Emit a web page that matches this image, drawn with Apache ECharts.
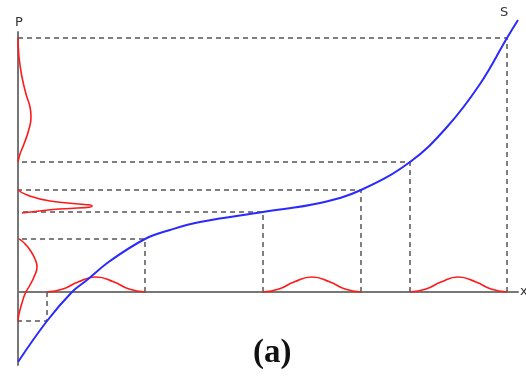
<!DOCTYPE html>
<html><head><meta charset="utf-8">
<script src="https://cdn.jsdelivr.net/npm/echarts@6/dist/echarts.min.js"></script>
<style>html,body{margin:0;padding:0;background:#fff;overflow:hidden}#c{width:526px;height:377px}</style>
</head><body><div id="c"></div>
<script>
// Blue transfer curve S(x)
const curveS = [[0,-70],[29,-29],[54,0],[69,12],[92,31],[127,53],[152,62],[182,70],[245,80],[302,89],[343,102],[392,130],[429,165],[462,208],[489,254],[500,272]];
// points on the curve with guide (dashed) lines
const guides = [[29,-29],[127,53],[245,80],[343,102],[392,130],[489,254]];
// input densities along x axis
const bumpX1 = [[29,0],[45,3],[60,10],[78,15],[96,10],[111,3],[127,0]];
const bumpX2 = [[245,0],[261,3],[276,10],[294,15],[312,10],[327,3],[343,0]];
const bumpX3 = [[392,0],[408,3],[423,10],[440,15],[458,10],[473,3],[489,0]];
// output densities along P axis
const densP1 = [[0,254],[1,235],[4,215],[8,198],[12,185],[13,175],[11,163],[6,148],[2,138],[0,130]];
const densP2 = [[0,102],[9,97],[32,91],[74,86],[30,82],[4,79]];
const densP3 = [[1,53],[4,51],[8,47],[12,42],[17,33],[19,25],[16,15],[12,7],[7,-2],[4,-11],[1,-22],[0,-29]];

const dashStyle = {color:'#555', width:1.5, type:[5,4]};
const series = [];
guides.forEach(g => {
  series.push({type:'line', data:[[g[0],0],[g[0],g[1]],[0,g[1]]], symbol:'none', lineStyle:dashStyle, silent:true, z:1});
});
[bumpX1,bumpX2,bumpX3,densP1,densP2,densP3].forEach(d => {
  series.push({type:'line', data:d, smooth:0.5, symbol:'none', lineStyle:{color:'#ff1a1a', width:1.6}, z:3, clip:false});
});
series.push({type:'line', data:curveS, smooth:0.4, symbol:'none', lineStyle:{color:'#2a2aff', width:2}, z:4, clip:false});

const chart = echarts.init(document.getElementById('c'));
chart.setOption({
  animation:false,
  grid:{left:18, right:8, top:32, bottom:12, containLabel:false, outerBoundsMode:'none'},
  xAxis:{type:'value', min:0, max:500, axisLine:{lineStyle:{color:'#777', width:2}}, axisTick:{show:false}, axisLabel:{show:false}, splitLine:{show:false}},
  yAxis:{type:'value', min:-73, max:260, axisLine:{lineStyle:{color:'#777', width:2}}, axisTick:{show:false}, axisLabel:{show:false}, splitLine:{show:false}},
  graphic:[
    {type:'text', left:15, top:16, style:{text:'P', fill:'#333', font:'13px DejaVu Sans'}},
    {type:'text', left:520, top:285, style:{text:'x', fill:'#333', font:'13px DejaVu Sans'}},
    {type:'text', left:500, top:6, style:{text:'S', fill:'#333', font:'13px DejaVu Sans'}},
    {type:'text', left:253, top:337, style:{text:'(a)', fill:'#111', font:'bold 33px "Liberation Serif"'}}
  ],
  series:series
});
</script></body></html>
